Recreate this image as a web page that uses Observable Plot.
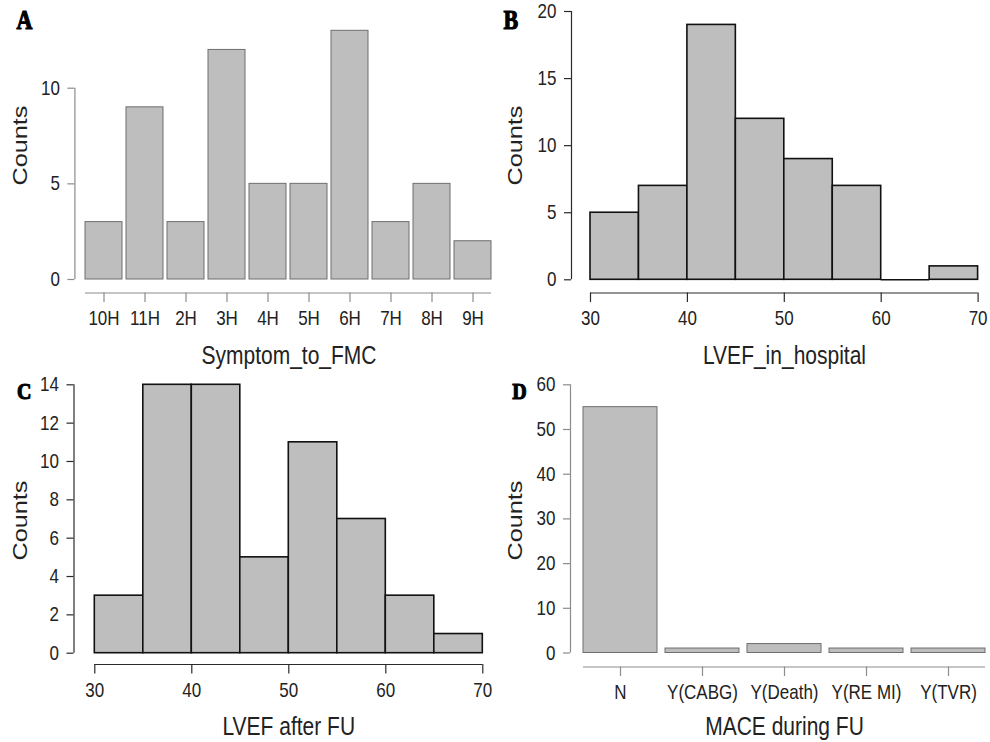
<!DOCTYPE html>
<html>
<head>
<meta charset="utf-8">
<script src="https://cdn.jsdelivr.net/npm/d3@7"></script>
<script src="https://cdn.jsdelivr.net/npm/@observablehq/plot@0.6"></script>
<style>
  html, body { margin: 0; padding: 0; background: #fff; overflow: hidden; }
  #fig { position: relative; width: 990px; height: 742px; }
  #fig > .panel { position: absolute; width: 495px; height: 371px; }
</style>
</head>
<body>
<div id="fig"></div>
<script>
// A: time from symptom onset to first medical contact
const symptomCats = ["10H", "11H", "2H", "3H", "4H", "5H", "6H", "7H", "8H", "9H"];
const symptomCounts = [3, 9, 3, 12, 5, 5, 13, 3, 5, 2];
const symptomTicks = [0, 5, 10];

// B and C: LVEF histograms on 5-point bins
const lvefEdges = [30, 35, 40, 45, 50, 55, 60, 65, 70];
const lvefTicks = [30, 40, 50, 60, 70];
const lvefHospitalCounts = [5, 7, 19, 12, 9, 7, 0, 1];
const lvefHospitalTicks = [0, 5, 10, 15, 20];
const lvefFollowUpCounts = [3, 14, 14, 5, 11, 7, 3, 1];
const lvefFollowUpTicks = [0, 2, 4, 6, 8, 10, 12, 14];

// D: major adverse cardiac events during follow-up
const maceCats = ["N", "Y(CABG)", "Y(Death)", "Y(RE MI)", "Y(TVR)"];
const maceCounts = [55, 1, 2, 1, 1];
const maceTicks = [0, 10, 20, 30, 40, 50, 60];

const FILL = "#bebebe";
const W = 495, H = 371;
const TEXT_STRETCH = 1.2; // glyphs are drawn a little taller than wide

const barTable = (cats, counts) => cats.map((c, i) => ({c, n: counts[i]}));
const binTable = (edges, counts) => counts.map((n, i) => ({lo: edges[i], hi: edges[i + 1], n}));

// Stretch every glyph along the page's vertical direction, keeping its anchor fixed.
function stretchText(svg, s) {
  svg.querySelectorAll("text").forEach((t) => {
    const tr = t.getAttribute("transform");
    if (tr && tr.includes("rotate")) {
      t.setAttribute("transform", `${tr} scale(${s},1)`);
    } else {
      const y = +t.getAttribute("y") || 0;
      t.setAttribute("transform", `${tr ? tr + " " : ""}translate(0,${y * (1 - s)}) scale(1,${s})`);
    }
  });
}

function panel(cfg) {
  const {ml, mb, mt = 0, mr = 0, axisColor, barStroke, barWidth} = cfg;
  const fw = W - ml - mr, fh = H - mt - mb;
  const marks = [
    ...cfg.bars(barStroke, barWidth),
    // axis lines spanning first to last tick, on the frame's left and bottom edges
    Plot.ruleX([cfg.yTicks], {x: null, y1: (d) => d[0], y2: (d) => d[d.length - 1], dx: -fw / 2, stroke: axisColor, strokeWidth: 1.2}),
    Plot.ruleY([cfg.xEnds], {y: null, x1: (d) => d[0], x2: (d) => d[d.length - 1], dy: fh / 2, stroke: axisColor, strokeWidth: 1.2}),
    Plot.axisY({anchor: "left", ticks: cfg.yTicks, tickSize: 7, tickPadding: 8, fontSize: 17, stroke: axisColor, strokeWidth: 1.2, fill: "#222", label: null}),
    Plot.axisX({anchor: "bottom", ticks: cfg.xTicks, tickSize: 9.5, tickPadding: 8.5, fontSize: 17, stroke: axisColor, strokeWidth: 1.2, fill: "#222", label: null}),
    Plot.text([cfg.ylabel], {frameAnchor: "top-left", text: (d) => d, rotate: -90, textAnchor: "middle", lineAnchor: "middle",
      dx: cfg.ylab[0], dy: cfg.ylab[1], fontSize: 21, fill: "#222"}),
    Plot.text([cfg.xlabel], {frameAnchor: "bottom-left", text: (d) => d, textAnchor: "middle", lineAnchor: "middle",
      dx: cfg.xlab[0], dy: cfg.xlab[1], fontSize: 21, fill: "#222"}),
    Plot.text([cfg.letter], {frameAnchor: "top-left", text: (d) => d, textAnchor: "start", lineAnchor: "top", dx: cfg.tag[0], dy: cfg.tag[1],
      fontFamily: "Liberation Serif", fontWeight: "bold", fontSize: cfg.tagSize, fill: "#000", stroke: "#000", strokeWidth: 1})
  ];
  const svg = Plot.plot({
    width: W, height: H,
    marginLeft: ml, marginRight: mr, marginTop: mt, marginBottom: mb,
    style: {background: "transparent", overflow: "visible", fontFamily: "'Liberation Sans', Arial, sans-serif", maxWidth: "none"},
    x: cfg.x,
    y: cfg.y,
    marks
  });
  stretchText(svg, TEXT_STRETCH);
  const holder = document.createElement("div");
  holder.className = "panel";
  holder.style.left = cfg.left + "px";
  holder.style.top = cfg.top + "px";
  holder.appendChild(svg);
  document.getElementById("fig").appendChild(holder);
}

// A
panel({
  left: 0, top: 0, ml: 74.4, mb: 78.5,
  axisColor: "#8c8c8c", barStroke: "#6e6e6e", barWidth: 1,
  x: {type: "band", domain: symptomCats, range: [77, 499.7], padding: 0.1},
  y: {domain: [0, 10], range: [279, 87.7]},
  yTicks: symptomTicks, xTicks: symptomCats, xEnds: [symptomCats[0], symptomCats[symptomCats.length - 1]],
  bars: (s, w) => [Plot.barY(barTable(symptomCats, symptomCounts), {x: "c", y: "n", fill: FILL, stroke: s, strokeWidth: w})],
  ylabel: "Counts", ylab: [-54.4, 145],
  xlabel: "Symptom_to_FMC", xlab: [214.1, 62.5],
  letter: "A", tag: [-58.4, 10], tagSize: 22
});

// B
panel({
  left: 495, top: 0, ml: 76, mb: 78.5,
  axisColor: "#2a2a2a", barStroke: "#111", barWidth: 1.6,
  x: {domain: [lvefEdges[0], lvefEdges[lvefEdges.length - 1]], range: [95, 482.6]},
  y: {domain: [0, 20], range: [279.3, 11]},
  yTicks: lvefHospitalTicks, xTicks: lvefTicks, xEnds: [lvefTicks[0], lvefTicks[lvefTicks.length - 1]],
  bars: (s, w) => {
    const t = binTable(lvefEdges, lvefHospitalCounts);
    return [
      Plot.rectY(t, {x1: "lo", x2: "hi", y: "n", fill: FILL, stroke: s, strokeWidth: w}),
      // empty bins still show their baseline
      Plot.ruleY(t.filter((d) => d.n === 0), {x1: "lo", x2: "hi", y: "n", stroke: s, strokeWidth: w})
    ];
  },
  ylabel: "Counts", ylab: [-56, 145],
  xlabel: "LVEF_in_hospital", xlab: [213, 62.5],
  letter: "B", tag: [-68, 10], tagSize: 22
});

// C
panel({
  left: 0, top: 371, ml: 73.5, mb: 78,
  axisColor: "#2a2a2a", barStroke: "#111", barWidth: 1.6,
  x: {domain: [lvefEdges[0], lvefEdges[lvefEdges.length - 1]], range: [94.3, 482.3]},
  y: {domain: [0, 14], range: [281.7, 13.3]},
  yTicks: lvefFollowUpTicks, xTicks: lvefTicks, xEnds: [lvefTicks[0], lvefTicks[lvefTicks.length - 1]],
  bars: (s, w) => [Plot.rectY(binTable(lvefEdges, lvefFollowUpCounts), {x1: "lo", x2: "hi", y: "n", fill: FILL, stroke: s, strokeWidth: w})],
  ylabel: "Counts", ylab: [-53.5, 149],
  xlabel: "LVEF after FU", xlab: [214.8, 62.7],
  letter: "C", tag: [-57, 10], tagSize: 20
});

// D
panel({
  left: 495, top: 371, ml: 75, mb: 75.5,
  axisColor: "#8c8c8c", barStroke: "#6e6e6e", barWidth: 1,
  x: {type: "band", domain: maceCats, range: [79.1, 498.6], padding: 0.1},
  y: {domain: [0, 60], range: [281.5, 13.3]},
  yTicks: maceTicks, xTicks: maceCats, xEnds: [maceCats[0], maceCats[maceCats.length - 1]],
  bars: (s, w) => [Plot.barY(barTable(maceCats, maceCounts), {x: "c", y: "n", fill: FILL, stroke: s, strokeWidth: w})],
  ylabel: "Counts", ylab: [-55, 149],
  xlabel: "MACE during FU", xlab: [214, 60.2],
  letter: "D", tag: [-58.3, 10.2], tagSize: 20
});
</script>
</body>
</html>
